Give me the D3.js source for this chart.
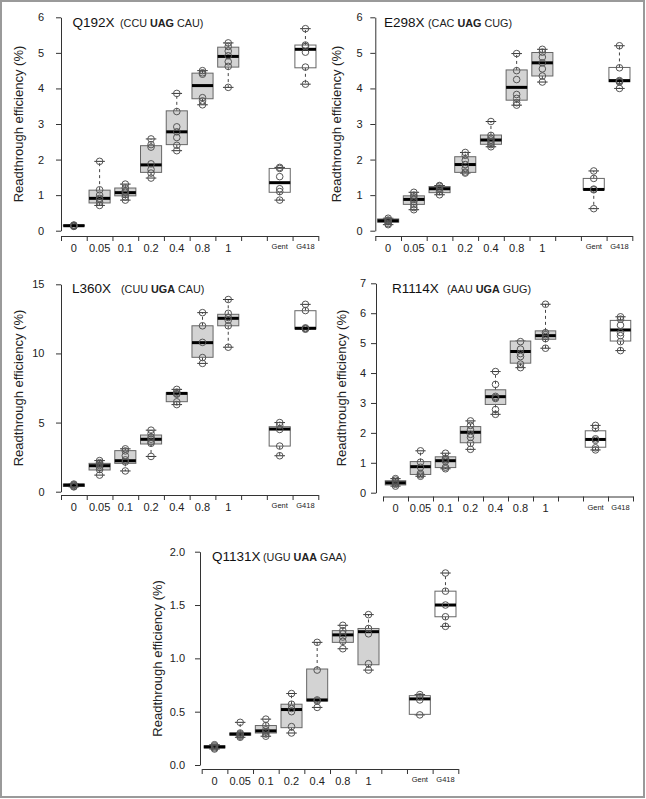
<!DOCTYPE html>
<html><head><meta charset="utf-8">
<script src="https://cdn.jsdelivr.net/npm/d3@7"></script>
<style>body{margin:0;background:#fff}svg{display:block}</style>
</head><body><svg id="c" width="646" height="799"></svg>
<script>
const categories = ["0","0.05","0.1","0.2","0.4","0.8","1","","Gent","G418"];

// Q192X
const q192xPoints = [[0.12,0.13,0.14,0.15,0.16],[0.71,0.80,0.88,0.91,1.0,1.15,1.95],[0.86,0.95,1.02,1.08,1.12,1.20,1.31],[1.48,1.62,1.72,1.88,2.35,2.42,2.58],[2.25,2.40,2.62,2.78,2.92,3.35,3.86],[3.54,3.65,3.74,4.40,4.44,4.50],[4.03,4.62,4.75,4.92,5.05,5.18,5.28],[],[0.86,1.10,1.18,1.52,1.75,1.78],[4.12,4.60,5.02,5.18,5.22,5.68]];
const q192xBoxes = [[0.12,0.13,0.14,0.16,0.16],[0.71,0.78,0.91,1.14,1.95],[0.86,0.98,1.07,1.20,1.31],[1.48,1.64,1.85,2.39,2.58],[2.25,2.42,2.78,3.37,3.86],[3.54,3.71,4.08,4.43,4.50],[4.03,4.60,4.90,5.16,5.28],null,[0.86,1.08,1.35,1.75,1.78],[4.12,4.58,5.10,5.22,5.68]];
const q192xTicks = [0,1,2,3,4,5,6];

// E298X
const e298xPoints = [[0.17,0.20,0.25,0.28,0.30,0.35],[0.59,0.65,0.73,0.82,0.88,0.95,1.00,1.08],[1.01,1.10,1.16,1.20,1.25,1.27],[1.62,1.65,1.75,1.86,1.98,2.12,2.20],[2.36,2.42,2.48,2.55,2.60,2.68,3.07],[3.53,3.60,3.72,3.83,4.25,4.50,4.98],[4.18,4.35,4.55,4.72,4.88,5.02,5.10],[],[0.62,1.15,1.17,1.47,1.68],[4.00,4.18,4.20,4.22,4.58,5.20]];
const e298xBoxes = [[0.17,0.24,0.28,0.33,0.35],[0.59,0.74,0.88,0.98,1.08],[1.01,1.07,1.18,1.24,1.27],[1.62,1.64,1.86,2.08,2.20],[2.36,2.43,2.55,2.69,3.07],[3.53,3.67,4.03,4.52,4.98],[4.18,4.35,4.72,5.01,5.10],null,[0.62,1.15,1.16,1.47,1.68],[4.00,4.19,4.22,4.59,5.20]];
const e298xTicks = [0,1,2,3,4,5,6];

// L360X
const l360xPoints = [[0.35,0.38,0.45,0.50,0.55],[1.20,1.60,1.75,1.90,2.00,2.10,2.25],[1.50,2.15,2.30,2.60,2.95,3.10],[2.55,3.50,3.60,3.80,3.95,4.20,4.45],[6.30,6.50,7.05,7.10,7.20,7.40],[9.28,9.70,10.80,12.00,12.95],[10.45,12.00,12.40,12.60,12.90,13.90],[],[2.60,3.30,4.50,4.80,5.00],[11.75,11.80,11.85,13.10,13.55]];
const l360xBoxes = [[0.35,0.38,0.48,0.55,0.55],[1.20,1.57,1.88,2.05,2.25],[1.50,2.05,2.24,2.97,3.10],[2.55,3.45,3.79,4.10,4.45],[6.30,6.51,7.11,7.16,7.40],[9.28,9.72,10.78,12.00,12.95],[10.45,12.00,12.54,12.83,13.90],null,[2.60,3.30,4.53,4.70,5.00],[11.75,11.77,11.82,13.09,13.55]];
const l360xTicks = [0,5,10,15];

// R1114X
const r1114xPoints = [[0.22,0.28,0.32,0.36,0.42,0.47],[0.55,0.60,0.65,0.85,1.02,1.40],[0.80,0.85,1.05,1.10,1.15,1.32],[1.45,1.65,1.85,1.95,2.10,2.25,2.40],[2.62,2.78,3.15,3.18,3.22,3.62,4.05],[4.18,4.30,4.55,4.65,4.80,5.05],[4.83,5.15,5.22,5.28,5.35,6.30],[],[1.43,1.50,1.75,1.80,2.15,2.25],[4.75,5.05,5.25,5.35,5.60,5.80,5.88]];
const r1114xBoxes = [[0.22,0.26,0.33,0.40,0.47],[0.55,0.61,0.87,1.04,1.40],[0.80,0.84,1.07,1.20,1.32],[1.45,1.67,2.02,2.21,2.40],[2.62,2.95,3.21,3.44,4.05],[4.18,4.33,4.72,5.07,5.07],[4.83,5.13,5.25,5.41,6.30],null,[1.43,1.52,1.78,2.07,2.25],[4.75,5.07,5.44,5.76,5.88]];
const r1114xTicks = [0,1,2,3,4,5,6,7];

// Q1131X
const q1131xPoints = [[0.15,0.16,0.17,0.18,0.19],[0.26,0.27,0.28,0.29,0.30,0.40],[0.27,0.29,0.31,0.33,0.37,0.43],[0.30,0.36,0.50,0.53,0.57,0.67],[0.54,0.60,0.61,0.89,1.15],[1.09,1.16,1.20,1.23,1.26,1.31],[0.89,0.95,1.23,1.28,1.41],[],[0.47,0.61,0.64,0.66],[1.30,1.39,1.50,1.63,1.80]];
const q1131xBoxes = [[0.15,0.16,0.17,0.18,0.19],[0.26,0.28,0.29,0.30,0.40],[0.27,0.30,0.32,0.37,0.43],[0.30,0.35,0.52,0.57,0.67],[0.54,0.60,0.61,0.90,1.15],[1.09,1.15,1.22,1.26,1.31],[0.89,0.94,1.25,1.28,1.41],null,[0.47,0.475,0.62,0.65,0.66],[1.30,1.39,1.50,1.63,1.80]];
const q1131xTicks = [0,0.5,1,1.5,2];

const titles = ["Q192X","E298X","L360X","R1114X","Q1131X"];
const codons = [["CCU","UAG","CAU"],["CAC","UAG","CUG"],["CUU","UGA","CAU"],["AAU","UGA","GUG"],["UGU","UAA","GAA"]];
const yLabel = "Readthrough efficiency (%)";

const panels = [
  {pts:q192xPoints, box:q192xBoxes, ticks:q192xTicks, fmt:d3.format("d"),
   x0:61, x1:318.3, yZero:230.7, yTop:17.3, axisY:236, yAxisX:61, labR:44, yLabX:18, tx:72.5, ty:27.3, cx:120},
  {pts:e298xPoints, box:e298xBoxes, ticks:e298xTicks, fmt:d3.format("d"),
   x0:375.3, x1:632.3, yZero:230.7, yTop:17.3, axisY:236, yAxisX:375.3, labR:362.5, yLabX:336, tx:384, ty:27.3, cx:428},
  {pts:l360xPoints, box:l360xBoxes, ticks:l360xTicks, fmt:d3.format("d"),
   x0:61, x1:318.3, yZero:491.7, yTop:284.3, axisY:495, yAxisX:61, labR:44.5, yLabX:18, tx:72, ty:292.7, cx:121},
  {pts:r1114xPoints, box:r1114xBoxes, ticks:r1114xTicks, fmt:d3.format("d"),
   x0:383, x1:633, yZero:492.7, yTop:283.3, axisY:496.5, yAxisX:376, labR:366, yLabX:341, tx:392, ty:292.7, cx:447},
  {pts:q1131xPoints, box:q1131xBoxes, ticks:q1131xTicks, fmt:d3.format(".1f"),
   x0:201.7, x1:458.3, yZero:765, yTop:551.7, axisY:769, yAxisX:200, labR:185, yLabX:157, tx:212, ty:560.7, cx:263}
];

const svg = d3.select("#c");
svg.append("rect").attr("x",1).attr("y",1).attr("width",643).attr("height",796)
  .attr("fill","#fff").attr("stroke","#9a9a9a").attr("stroke-width",2);

const FONT = "'Liberation Sans', Arial, Helvetica, sans-serif";

panels.forEach((p, i) => {
  const g = svg.append("g");
  const x = d3.scaleBand().domain(categories).range([p.x0, p.x1]).paddingInner(0).paddingOuter(0);
  const xb = d3.scaleLinear().domain([0, categories.length]).range([p.x0, p.x1]);
  const yMax = p.ticks[p.ticks.length-1];
  const y = d3.scaleLinear().domain([0, yMax]).range([p.yZero, p.yTop]);

  // x axis boundaries
  const ax = g.append("g").attr("transform",`translate(0,${p.axisY})`)
    .call(d3.axisBottom(xb).tickValues(d3.range(categories.length+1)).tickFormat("").tickSize(5).tickSizeOuter(0));
  ax.selectAll("path,line").attr("stroke","#333");
  // x labels
  const axl = g.append("g").attr("transform",`translate(0,${p.axisY})`)
    .call(d3.axisBottom(x).tickSize(0).tickPadding(8));
  axl.select(".domain").remove();
  axl.selectAll("text").attr("font-family",FONT).attr("font-size", d => (d==="Gent"||d==="G418") ? 7.5 : 11).attr("fill","#222");

  // y axis
  const ay = g.append("g").attr("transform",`translate(${p.yAxisX},0)`)
    .call(d3.axisLeft(y).tickValues(p.ticks).tickFormat(p.fmt).tickSize(5).tickSizeOuter(0).tickPadding(p.yAxisX - p.labR - 5));
  ay.selectAll("path,line").attr("stroke","#333");
  ay.selectAll("text").attr("font-family",FONT).attr("font-size",11).attr("fill","#222");

  // y label
  g.append("text").attr("transform",`translate(${p.yLabX},${(p.yZero+p.yTop)/2}) rotate(-90)`)
    .attr("text-anchor","middle").attr("dy","0.35em")
    .attr("font-family",FONT).attr("font-size",13).attr("fill","#222").text(yLabel);

  // title
  g.append("text").attr("x",p.tx).attr("y",p.ty).attr("font-family",FONT).attr("font-size",13.5).attr("fill","#111").text(titles[i]);
  const ct = g.append("text").attr("x",p.cx).attr("y",p.ty).attr("font-family",FONT).attr("font-size",10.8).attr("fill","#222");
  ct.append("tspan").text("(" + codons[i][0] + " ");
  ct.append("tspan").attr("font-weight","bold").text(codons[i][1]);
  ct.append("tspan").text(" " + codons[i][2] + ")");

  const bw = x.bandwidth()*0.82;
  categories.forEach((c, k) => {
    const b = p.box[k];
    if (!b) return;
    const cxp = x(c) + x.bandwidth()/2;
    const white = (c==="Gent"||c==="G418");
    // whiskers
    g.append("line").attr("x1",cxp).attr("x2",cxp).attr("y1",y(b[3])).attr("y2",y(b[4]))
      .attr("stroke","#444").attr("stroke-dasharray","3,3");
    g.append("line").attr("x1",cxp).attr("x2",cxp).attr("y1",y(b[1])).attr("y2",y(b[0]))
      .attr("stroke","#444").attr("stroke-dasharray","3,3");
    [b[0], b[4]].forEach(v => g.append("line").attr("x1",cxp-bw/4).attr("x2",cxp+bw/4).attr("y1",y(v)).attr("y2",y(v)).attr("stroke","#333"));
    // box
    g.append("rect").attr("x",cxp-bw/2).attr("width",bw).attr("y",y(b[3])).attr("height",Math.max(0.5,y(b[1])-y(b[3])))
      .attr("fill", white ? "#fff" : "#d3d3d3").attr("stroke","#666").attr("stroke-width",1);
    // median
    g.append("line").attr("x1",cxp-bw/2).attr("x2",cxp+bw/2).attr("y1",y(b[2])).attr("y2",y(b[2]))
      .attr("stroke","#000").attr("stroke-width",3);
    // points
    g.selectAll(null).data(p.pts[k]).enter().append("circle")
      .attr("cx",cxp).attr("cy",d=>y(d)).attr("r",3.3)
      .attr("fill","none").attr("stroke","#555").attr("stroke-width",1);
  });
});
</script></body></html>
